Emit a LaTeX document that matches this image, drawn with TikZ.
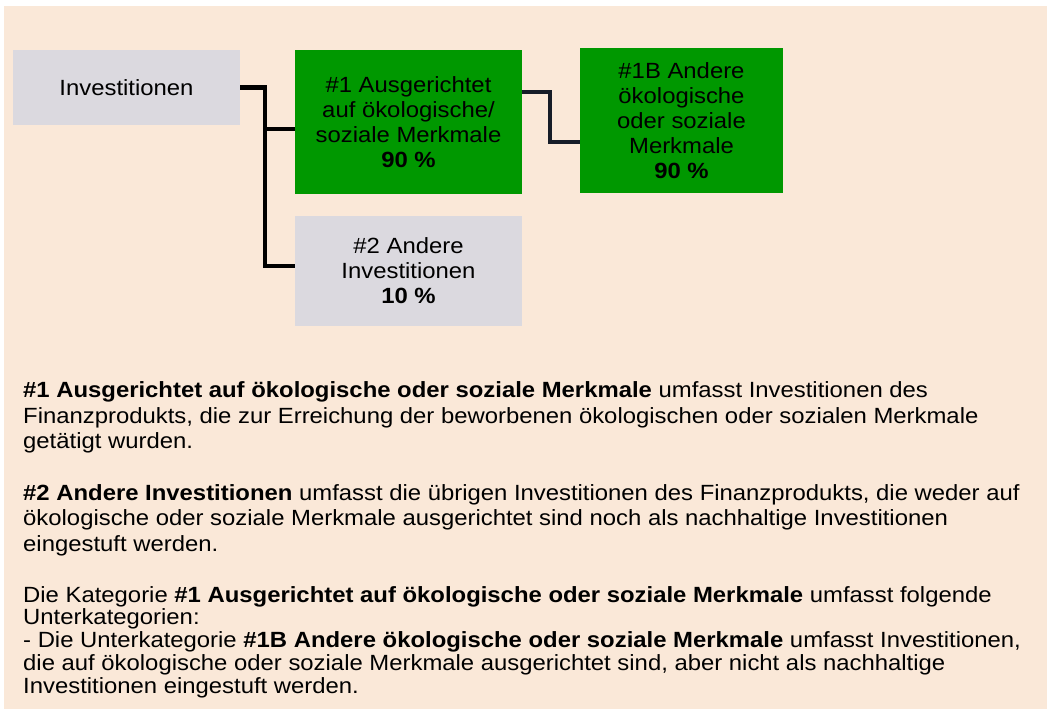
\documentclass[tikz,border=0pt]{standalone}
\usepackage{fontspec}
\setmainfont{Liberation Sans}[FakeStretch=1.085]
\usetikzlibrary{calc}
\definecolor{bgpeach}{RGB}{250,232,216}
\definecolor{boxgrey}{RGB}{219,217,223}
\definecolor{boxgreen}{RGB}{0,152,0}
\definecolor{connnavy}{RGB}{22,28,40}
\tikzset{
  box/.style={draw=none, inner sep=0pt, align=center, text=black,
    font=\fontsize{22}{25}\selectfont},
  greybox/.style={box, fill=boxgrey},
  greenbox/.style={box, fill=boxgreen},
  conn/.style={draw=black, line width=4.5pt},
  connb/.style={draw=connnavy, line width=3.5pt},
  para/.style={anchor=base west, inner sep=0pt, align=left, text=black}
}
\begin{document}
\begin{tikzpicture}[x=1pt, y=-1pt]
\useasboundingbox (0,0) rectangle (1047,709);
\fill[bgpeach] (4,6) rectangle (1047,709);

\node[greybox, minimum width=227pt, minimum height=75pt] (inv) at (126.5,87.5) {Investitionen};
\node[greenbox, minimum width=227pt, minimum height=144pt] (n1) at (408.5,122)
  {\#1 Ausgerichtet\\auf ökologische/\\soziale Merkmale\\\textbf{90 \%}};
\node[greenbox, minimum width=203pt, minimum height=145pt] (n1b) at (681.5,120.5)
  {\#1B Andere\\ökologische\\oder soziale\\Merkmale\\\textbf{90 \%}};
\node[greybox, minimum width=227pt, minimum height=110pt] (n2) at (408.5,271)
  {\#2 Andere\\Investitionen\\\textbf{10 \%}};

\coordinate (j1) at (265,87.5);
\draw[conn] (inv.east) -- (j1) |- ([yshift=5pt]n2.west);
\draw[conn] ([yshift=-7pt]n1.west) -| (j1);
\draw[connb] ([yshift=30pt]n1.east) -- ++(28,0) |- ([yshift=-21.5pt]n1b.west);

% anchor base of a multi-line node is the baseline of its last line
\node[para, font=\fontsize{22}{25.5}\selectfont] (p1) at (23,448.5)
  {\textbf{\#1 Ausgerichtet auf ökologische oder soziale Merkmale} umfasst Investitionen des\\
   Finanzprodukts, die zur Erreichung der beworbenen ökologischen oder sozialen Merkmale\\
   getätigt wurden.};
\node[para, font=\fontsize{22}{25.5}\selectfont] (p2) at (23,551)
  {\textbf{\#2 Andere Investitionen} umfasst die übrigen Investitionen des Finanzprodukts, die weder auf\\
   ökologische oder soziale Merkmale ausgerichtet sind noch als nachhaltige Investitionen\\
   eingestuft werden.};
\node[para, font=\fontsize{22}{22.8}\selectfont] (p3) at (23,693.3)
  {Die Kategorie \textbf{\#1 Ausgerichtet auf ökologische oder soziale Merkmale} umfasst folgende\\
   Unterkategorien:\\
   - Die Unterkategorie \textbf{\#1B Andere ökologische oder soziale Merkmale} umfasst Investitionen,\\
   die auf ökologische oder soziale Merkmale ausgerichtet sind, aber nicht als nachhaltige\\
   Investitionen eingestuft werden.};
\end{tikzpicture}
\end{document}
